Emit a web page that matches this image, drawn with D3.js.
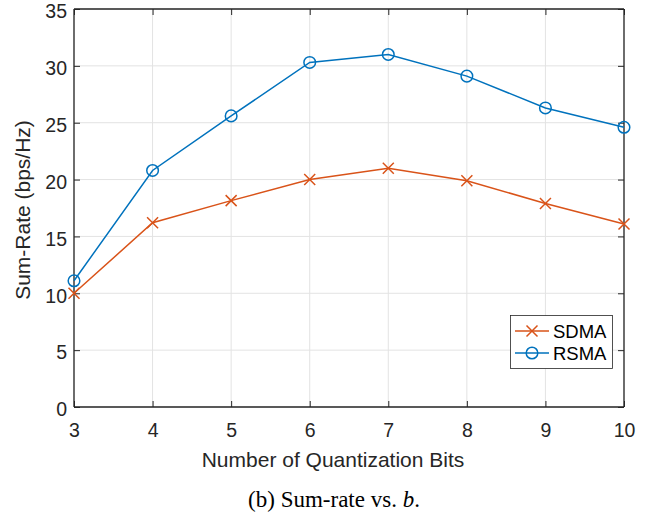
<!DOCTYPE html>
<html><head><meta charset="utf-8">
<script src="https://cdn.jsdelivr.net/npm/d3@7"></script>
<style>body{margin:0;background:#fff}</style>
</head><body>
<svg id="c" width="652" height="517"></svg>
<script>
const bits = [3,4,5,6,7,8,9,10];
const sdma = [10.0,16.2,18.15,20.0,21.0,19.9,17.9,16.1];
const rsma = [11.1,20.8,25.6,30.3,31.0,29.1,26.3,24.6];
const yTicks = [0,5,10,15,20,25,30,35];
const seriesNames = ["SDMA","RSMA"];
const colors = ["#D95319","#0072BD"];

const svg = d3.select("#c");
const L=74,R=624,T=9,B=407;
const x = d3.scaleLinear().domain([3,10]).range([L,R]);
const y = d3.scaleLinear().domain([0,35]).range([B,T]);
const font = "'Liberation Sans', Arial, Helvetica, sans-serif";
const axc = "#262626";

// grid
const g = svg.append("g");
g.selectAll(".gx").data(bits).enter().append("line")
 .attr("x1",d=>x(d)).attr("x2",d=>x(d)).attr("y1",T).attr("y2",B)
 .attr("stroke","#e3e3e3").attr("stroke-width",1);
g.selectAll(".gy").data(yTicks).enter().append("line")
 .attr("y1",d=>y(d)).attr("y2",d=>y(d)).attr("x1",L).attr("x2",R)
 .attr("stroke","#e3e3e3").attr("stroke-width",1);

// axes with inward ticks
const axB = d3.axisBottom(x).tickValues(bits).tickSize(-6).tickPadding(16).tickFormat(d3.format("d"));
const axL = d3.axisLeft(y).tickValues(yTicks).tickSize(-6).tickPadding(7);
const axT = d3.axisTop(x).tickValues(bits).tickSize(-6).tickFormat("");
const axR = d3.axisRight(y).tickValues(yTicks).tickSize(-6).tickFormat("");
function style(sel){
  sel.selectAll("path").attr("stroke",axc).attr("stroke-width",1.3);
  sel.selectAll("line").attr("stroke",axc).attr("stroke-width",1);
  sel.selectAll("text").attr("fill",axc).style("font-family",font).style("font-size","19.5px");
}
svg.append("g").attr("transform",`translate(0,${B})`).call(axB).call(style).call(s=>s.selectAll(".domain").attr("d",`M${L},0H${R}`));
svg.append("g").attr("transform",`translate(${L},0)`).call(axL).call(style)
  .call(s=>s.selectAll(".domain").attr("d",`M0,${T}V${B}`))
  .call(s=>s.selectAll("text").attr("dy","0.45em"));
svg.append("g").attr("transform",`translate(0,${T})`).call(axT).call(style).call(s=>s.selectAll(".domain").attr("d",`M${L},0H${R}`));
svg.append("g").attr("transform",`translate(${R},0)`).call(axR).call(style).call(s=>s.selectAll(".domain").attr("d",`M0,${T}V${B}`));

// lines
const data = [sdma, rsma];
const line = d3.line().x((d,i)=>x(bits[i])).y(d=>y(d));
data.forEach((arr,k)=>{
  svg.append("path").datum(arr).attr("d",line).attr("fill","none")
    .attr("stroke",colors[k]).attr("stroke-width",1.5);
});
// markers
function cross(sel,cx,cy,c){
  const s=5.5;
  sel.append("path").attr("d",`M${cx-s},${cy-s}L${cx+s},${cy+s}M${cx-s},${cy+s}L${cx+s},${cy-s}`)
   .attr("stroke",c).attr("stroke-width",1.5).attr("fill","none");
}
function circ(sel,cx,cy,c){
  sel.append("circle").attr("cx",cx).attr("cy",cy).attr("r",5.8)
   .attr("stroke",c).attr("stroke-width",1.5).attr("fill","none");
}
const mg = svg.append("g");
sdma.forEach((v,i)=>cross(mg,x(bits[i]),y(v),colors[0]));
rsma.forEach((v,i)=>circ(mg,x(bits[i]),y(v),colors[1]));

// legend
const lg = svg.append("g");
lg.append("rect").attr("x",510.5).attr("y",315.5).attr("width",102).attr("height",53)
  .attr("fill","#fff").attr("stroke",axc).attr("stroke-width",0.8);
seriesNames.forEach((n,k)=>{
  const yy = 331 + k*22;
  lg.append("line").attr("x1",515).attr("x2",549).attr("y1",yy).attr("y2",yy)
    .attr("stroke",colors[k]).attr("stroke-width",1.5);
  if(k===0) cross(lg,532,yy,colors[k]); else circ(lg,532,yy,colors[k]);
  lg.append("text").attr("x",553).attr("y",yy+6.5).text(n)
    .attr("fill","#000").style("font-family",font).style("font-size","18.5px");
});

// labels
svg.append("text").attr("x",333).attr("y",467).attr("text-anchor","middle")
 .attr("fill",axc).style("font-family",font).style("font-size","21px").text("Number of Quantization Bits");
svg.append("text").attr("transform",`translate(30,210) rotate(-90)`).attr("text-anchor","middle")
 .attr("fill",axc).style("font-family",font).style("font-size","21px").text("Sum-Rate (bps/Hz)");
const cap = svg.append("text").attr("x",334).attr("y",507).attr("text-anchor","middle")
 .attr("fill","#000").style("font-family","'Liberation Serif','Times New Roman',serif").style("font-size","23px");
cap.append("tspan").text("(b) Sum-rate vs. ");
cap.append("tspan").attr("font-style","italic").text("b");
cap.append("tspan").text(".");
</script>
</body></html>
